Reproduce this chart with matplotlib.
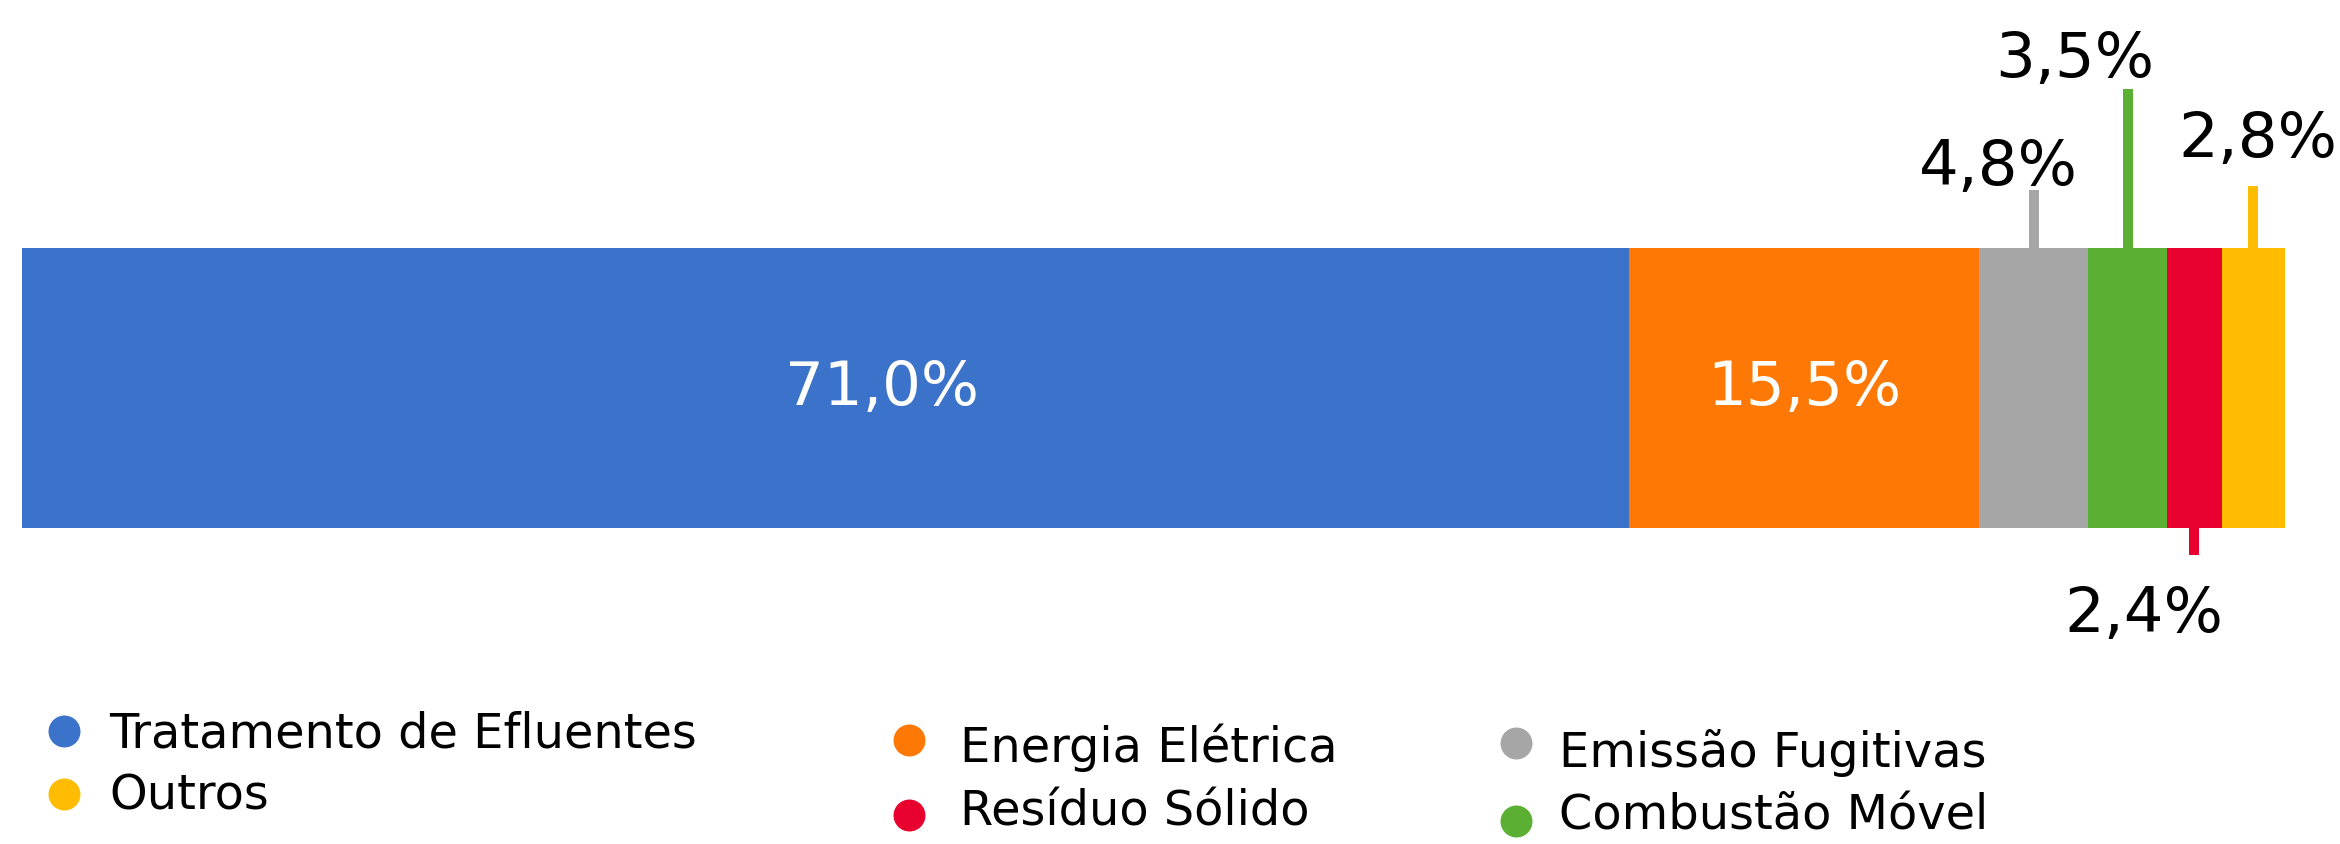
import matplotlib.pyplot as plt
from matplotlib.lines import Line2D

# emission shares (%) by source, in stacking order
categories = [
    "Tratamento de Efluentes",
    "Energia Elétrica",
    "Emissão Fugitivas",
    "Combustão Móvel",
    "Resíduo Sólido",
    "Outros",
]
shares = [71.0, 15.5, 4.8, 3.5, 2.4, 2.8]
labels = ["71,0%", "15,5%", "4,8%", "3,5%", "2,4%", "2,8%"]
colors = ["#3B72CA", "#FD7804", "#A6A6A6", "#5BAF33", "#E8002E", "#FFBC00"]

W, H = 2340, 844
BAR_TOP, BAR_BOTTOM = 248, 528
BAR_LEFT, BAR_RIGHT = 22, 2285

# label placement: inside the bar, or on a leader line above / below it
# (mode, leader length px, text dx px, text dy px to baseline)
placement = [
    ("in", 0, 57, 0),
    ("in", 0, 0, 0),
    ("up", 58, -35, 5),
    ("up", 159, -53, 12),
    ("down", 27, -51, -77),
    ("up", 62, 5, 29),
]

# legend slots in pixels: marker x, marker y, text x, text baseline y
legend_slots = [
    (64, 731, 109, 747),
    (909, 740, 960, 762),
    (1516, 743, 1559, 767),
    (1516, 821, 1559, 830),
    (909, 815, 960, 826),
    (64, 794, 109, 809),
]

plt.rcParams["font.family"] = ["DejaVu Sans"]

fig = plt.figure(figsize=(W / 100, H / 100), dpi=100)
bar_h = BAR_BOTTOM - BAR_TOP
ax = fig.add_axes([
    BAR_LEFT / W,
    1 - BAR_BOTTOM / H,
    (BAR_RIGHT - BAR_LEFT) / W,
    bar_h / H,
])
ax.set_xlim(0, sum(shares))
ax.set_ylim(-0.5, 0.5)
ax.axis("off")

left = 0
for share, label, color, (mode, lead, dx, dy) in zip(shares, labels, colors, placement):
    ax.barh(0, share, left=left, height=1, color=color, linewidth=0)
    cx = left + share / 2
    if mode == "in":
        ax.annotate(label, (cx, 0), xytext=(dx, 0), textcoords="offset pixels",
                    ha="center", va="center", color="white", fontsize=44)
    else:
        sign = 1 if mode == "up" else -1
        y0 = 0.5 * sign
        y1 = y0 + sign * lead / bar_h
        ax.plot([cx, cx], [y0, y1], color=color, linewidth=7.2,
                solid_capstyle="butt", clip_on=False)
        ax.annotate(label, (cx, y1), xytext=(dx, dy), textcoords="offset pixels",
                    ha="center", va="baseline", color="black", fontsize=45,
                    annotation_clip=False)
    left += share

for name, color, (mx, my, tx, ty) in zip(categories, colors, legend_slots):
    fig.add_artist(Line2D([mx / W], [1 - my / H], marker="o", markersize=22,
                          color=color, linestyle="none", transform=fig.transFigure))
    fig.text(tx / W, 1 - ty / H, name, fontsize=34.5, color="black",
             ha="left", va="baseline")

fig.savefig("out.png", dpi=100, facecolor="white")
